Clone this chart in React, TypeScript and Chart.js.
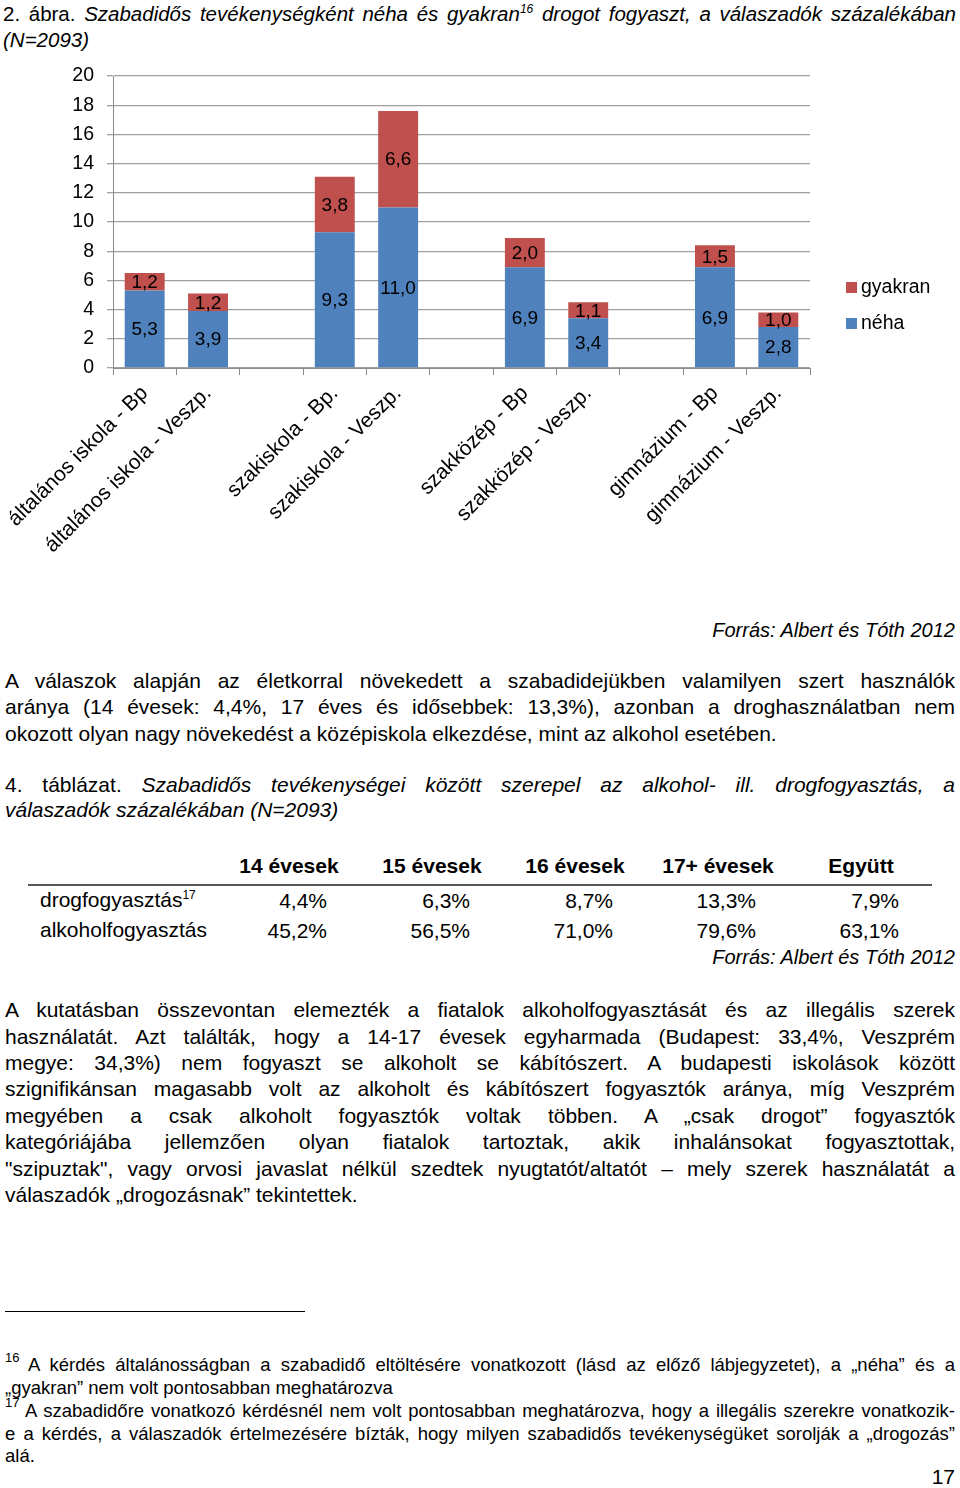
import React, { useEffect, useRef } from "react";
import { Chart, registerables } from "chart.js";

Chart.register(...registerables);

const categories = [
  "általános iskola - Bp",
  "általános iskola - Veszp.",
  "",
  "szakiskola - Bp.",
  "szakiskola - Veszp.",
  "",
  "szakközép - Bp",
  "szakközép - Veszp.",
  "",
  "gimnázium - Bp",
  "gimnázium - Veszp.",
];
const nehaValues = [5.3, 3.9, null, 9.3, 11.0, null, 6.9, 3.4, null, 6.9, 2.8];
const gyakranValues = [1.2, 1.2, null, 3.8, 6.6, null, 2.0, 1.1, null, 1.5, 1.0];
const seriesNames = ["néha", "gyakran"];
const seriesColors = ["#4F81BD", "#C0504D"];
const yMin = 0;
const yMax = 20;
const yStep = 2;

const tableHeaders = ["14 évesek", "15 évesek", "16 évesek", "17+ évesek", "Együtt"];
const drogRow = ["4,4%", "6,3%", "8,7%", "13,3%", "7,9%"];
const alkoholRow = ["45,2%", "56,5%", "71,0%", "79,6%", "63,1%"];

const FONT = "'Liberation Sans', Arial, Helvetica, sans-serif";

const valueLabels = {
  id: "valueLabels",
  afterDatasetsDraw(chart: any) {
    const ctx = chart.ctx;
    ctx.save();
    ctx.font = `19px ${FONT}`;
    ctx.fillStyle = "#000";
    ctx.textAlign = "center";
    ctx.textBaseline = "middle";
    chart.data.datasets.forEach((ds: any, i: number) => {
      const meta = chart.getDatasetMeta(i);
      meta.data.forEach((el: any, j: number) => {
        const v = ds.data[j];
        if (v === null || v === undefined) return;
        const p = el.getCenterPoint();
        ctx.fillText(Number(v).toFixed(1).replace(".", ","), p.x, p.y + 1);
      });
    });
    ctx.restore();
  },
};

const sideLegend = {
  id: "sideLegend",
  afterDraw(chart: any) {
    const { ctx, chartArea } = chart;
    const items = [...chart.data.datasets].reverse();
    const x0 = chartArea.right + 36;
    const yStart = chartArea.top + 211;
    ctx.save();
    ctx.font = `19.5px ${FONT}`;
    ctx.textBaseline = "middle";
    ctx.textAlign = "left";
    items.forEach((ds: any, k: number) => {
      const y = yStart + k * 36;
      ctx.fillStyle = ds.backgroundColor;
      ctx.fillRect(x0, y - 5, 11, 11);
      ctx.fillStyle = "#000";
      ctx.fillText(ds.label, x0 + 15, y + 1);
    });
    ctx.restore();
  },
};

function BarChart() {
  const ref = useRef<HTMLCanvasElement | null>(null);
  useEffect(() => {
    if (!ref.current) return;
    const chart = new Chart(ref.current, {
      type: "bar",
      data: {
        labels: categories,
        datasets: [
          {
            label: seriesNames[0],
            data: nehaValues,
            backgroundColor: seriesColors[0],
            barPercentage: 0.63,
            categoryPercentage: 1,
          },
          {
            label: seriesNames[1],
            data: gyakranValues,
            backgroundColor: seriesColors[1],
            barPercentage: 0.63,
            categoryPercentage: 1,
          },
        ],
      },
      options: {
        animation: false,
        responsive: true,
        maintainAspectRatio: false,
        layout: { padding: { top: 16, right: 150, left: 0, bottom: 0 } },
        plugins: {
          legend: { display: false },
          tooltip: { enabled: false },
          title: { display: false },
        },
        scales: {
          x: {
            stacked: true,
            grid: {
              display: true,
              drawOnChartArea: false,
              drawTicks: true,
              tickLength: 7,
              color: "#8c8c8c",
              offset: true,
            },
            border: { display: true, color: "#8c8c8c", width: 1 },
            ticks: {
              autoSkip: false,
              minRotation: 45,
              maxRotation: 45,
              color: "#000",
              padding: 6,
              font: { family: FONT, size: 21 },
            },
            afterFit: (s: any) => {
              s.height = 190;
            },
          },
          y: {
            stacked: true,
            min: yMin,
            max: yMax,
            ticks: {
              stepSize: yStep,
              color: "#000",
              padding: 13,
              font: { family: FONT, size: 19.5 },
            },
            grid: { color: "#a0a0a0", tickLength: 6, lineWidth: 1.3 },
            border: { display: true, color: "#8c8c8c", width: 1 },
            afterFit: (s: any) => {
              s.width = 113;
              s.paddingTop = 8;
              s.paddingBottom = 8;
            },
          },
        },
      },
      plugins: [valueLabels, sideLegend],
    });
    return () => chart.destroy();
  }, []);
  return (
    <div style={{ position: "absolute", left: 0, top: 60, width: 960, height: 498 }}>
      <canvas ref={ref} />
    </div>
  );
}

type LineProps = {
  y: number;
  left?: number;
  right?: number;
  size?: number;
  justify?: boolean;
  align?: "left" | "right" | "center";
  bold?: boolean;
  italic?: boolean;
  children: React.ReactNode;
};

function Line({ y, left = 5, right = 955, size = 21, justify = true, align = "left", bold, italic, children }: LineProps) {
  const lh = Math.round(size * 1.3);
  const top = y - 0.665 * size;
  return (
    <div
      style={{
        position: "absolute",
        left,
        width: right - left,
        top,
        fontSize: size,
        lineHeight: `${lh}px`,
        fontFamily: FONT,
        fontWeight: bold ? "bold" : "normal",
        fontStyle: italic ? "italic" : "normal",
        textAlign: justify ? "justify" : align,
        textAlignLast: justify ? "justify" : align,
        color: "#000",
        whiteSpace: "normal",
      }}
    >
      {children}
    </div>
  );
}

const Sup = ({ children, size = 12 }: { children: React.ReactNode; size?: number }) => (
  <span style={{ fontSize: size, verticalAlign: "super", lineHeight: 0 }}>{children}</span>
);

export default function App() {
  useEffect(() => {
    document.body.style.margin = "0";
    document.documentElement.style.overflow = "hidden";
    document.body.style.overflow = "hidden";
  }, []);
  const colCenters = [289, 432, 575, 718, 861];
  const colRights = [327, 470, 613, 756, 899];
  return (
    <div style={{ position: "relative", width: 960, height: 1488, overflow: "hidden", fontFamily: FONT, background: "#fff" }}>
      <Line y={14} left={3} right={956} size={20.5}>
        2. ábra. <i>Szabadidős tevékenységként néha és gyakran<Sup>16</Sup> drogot fogyaszt, a válaszadók százalékában</i>
      </Line>
      <Line y={40} left={3} size={20.5} justify={false} italic>
        (N=2093)
      </Line>

      <BarChart />

      <Line y={630} size={20} justify={false} align="right" italic>
        Forrás: Albert és Tóth 2012
      </Line>

      <Line y={681}>A válaszok alapján az életkorral növekedett a szabadidejükben valamilyen szert használók</Line>
      <Line y={707}>aránya (14 évesek: 4,4%, 17 éves és idősebbek: 13,3%), azonban a droghasználatban nem</Line>
      <Line y={734} justify={false}>
        okozott olyan nagy növekedést a középiskola elkezdése, mint az alkohol esetében.
      </Line>

      <Line y={785}>
        4. táblázat. <i>Szabadidős tevékenységei között szerepel az alkohol- ill. drogfogyasztás, a</i>
      </Line>
      <Line y={810} justify={false} italic>
        válaszadók százalékában (N=2093)
      </Line>

      {tableHeaders.map((h, i) => (
        <Line key={h} y={866} left={colCenters[i] - 70} right={colCenters[i] + 70} justify={false} align="center" bold>
          {h}
        </Line>
      ))}
      <div style={{ position: "absolute", left: 28, top: 884, width: 904, height: 2, background: "#555" }} />
      <Line y={900} left={40} right={240} justify={false}>
        drogfogyasztás<Sup>17</Sup>
      </Line>
      <Line y={930} left={40} right={240} justify={false}>
        alkoholfogyasztás
      </Line>
      {drogRow.map((v, i) => (
        <Line key={"d" + i} y={901} left={colRights[i] - 100} right={colRights[i]} justify={false} align="right">
          {v}
        </Line>
      ))}
      {alkoholRow.map((v, i) => (
        <Line key={"a" + i} y={931} left={colRights[i] - 100} right={colRights[i]} justify={false} align="right">
          {v}
        </Line>
      ))}
      <Line y={957} size={20} justify={false} align="right" italic>
        Forrás: Albert és Tóth 2012
      </Line>

      <Line y={1010}>A kutatásban összevontan elemezték a fiatalok alkoholfogyasztását és az illegális szerek</Line>
      <Line y={1037}>használatát. Azt találták, hogy a 14-17 évesek egyharmada (Budapest: 33,4%, Veszprém</Line>
      <Line y={1063}>megye: 34,3%) nem fogyaszt se alkoholt se kábítószert. A budapesti iskolások között</Line>
      <Line y={1089}>szignifikánsan magasabb volt az alkoholt és kábítószert fogyasztók aránya, míg Veszprém</Line>
      <Line y={1116}>megyében a csak alkoholt fogyasztók voltak többen. A „csak drogot” fogyasztók</Line>
      <Line y={1142}>kategóriájába jellemzően olyan fiatalok tartoztak, akik inhalánsokat fogyasztottak,</Line>
      <Line y={1169}>"szipuztak", vagy orvosi javaslat nélkül szedtek nyugtatót/altatót – mely szerek használatát a</Line>
      <Line y={1195} justify={false}>
        válaszadók „drogozásnak” tekintettek.
      </Line>

      <div style={{ position: "absolute", left: 5, top: 1311, width: 300, height: 1, background: "#000" }} />

      <Line y={1358} left={5} right={30} size={13} justify={false}>
        16
      </Line>
      <Line y={1365} left={28} size={18.5}>
        A kérdés általánosságban a szabadidő eltöltésére vonatkozott (lásd az előző lábjegyzetet), a „néha” és a
      </Line>
      <Line y={1388} size={18.5} justify={false}>
        „gyakran” nem volt pontosabban meghatározva
      </Line>
      <Line y={1403} left={5} right={30} size={13} justify={false}>
        17
      </Line>
      <Line y={1411} left={25} size={18.5}>
        A szabadidőre vonatkozó kérdésnél nem volt pontosabban meghatározva, hogy a illegális szerekre vonatkozik-
      </Line>
      <Line y={1434} size={18.5}>
        e a kérdés, a válaszadók értelmezésére bízták, hogy milyen szabadidős tevékenységüket sorolják a „drogozás”
      </Line>
      <Line y={1456} size={18.5} justify={false}>
        alá.
      </Line>
      <Line y={1477} justify={false} align="right">
        17
      </Line>
    </div>
  );
}
